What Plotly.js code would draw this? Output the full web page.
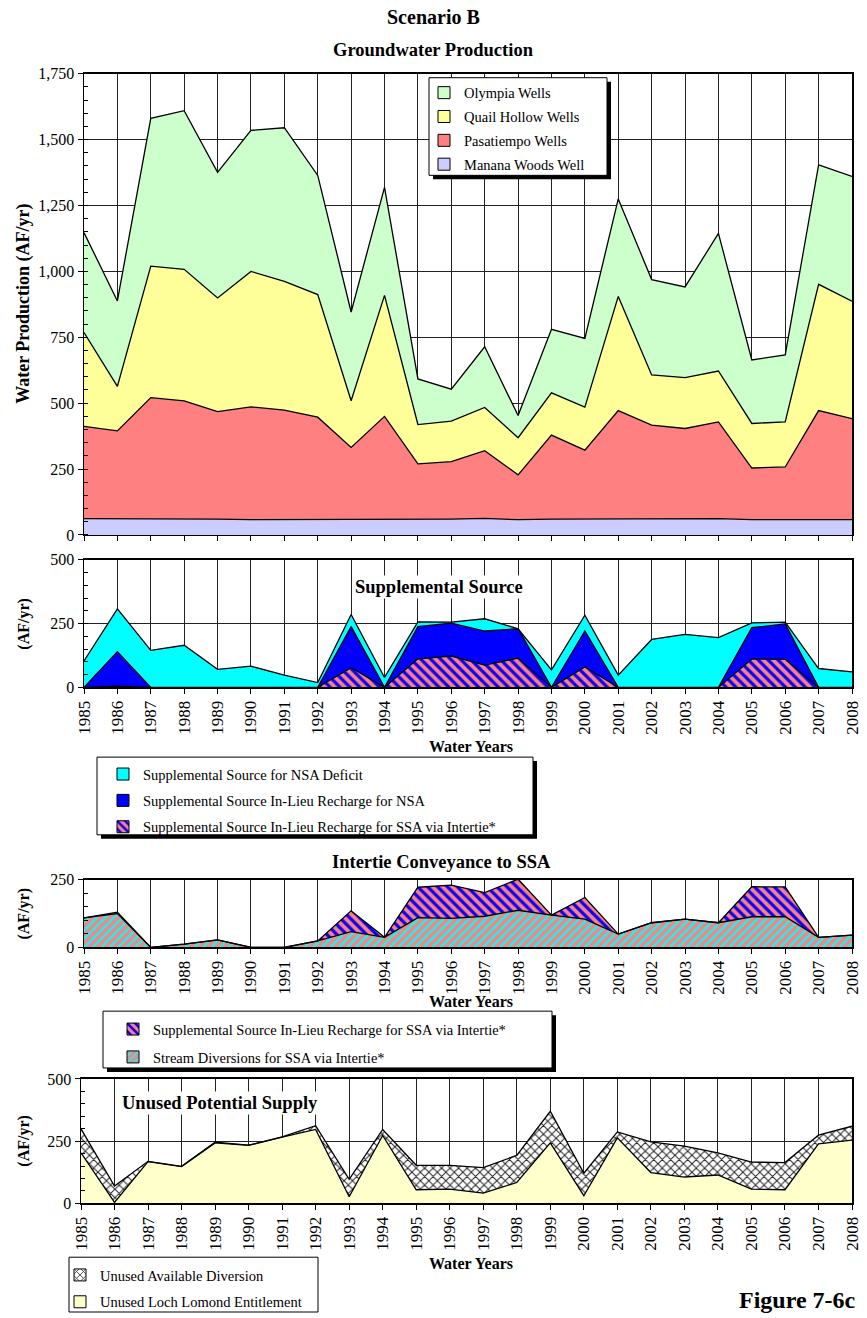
<!DOCTYPE html>
<html><head><meta charset="utf-8">
<script src="https://cdn.plot.ly/plotly-3.0.1.min.js"></script>
<style>html,body{margin:0;padding:0;background:#fff}</style>
</head><body><div id="chart" style="width:867px;height:1318px"></div>
<script>
// ---------- DATA (AF/yr) ----------
const years = [1985,1986,1987,1988,1989,1990,1991,1992,1993,1994,1995,1996,1997,1998,1999,2000,2001,2002,2003,2004,2005,2006,2007,2008];
// Groundwater production
const mananaWoods = [62,62,62,62,60,58,58,58,58,58,60,60,63,58,60,60,62,60,60,62,58,58,60,58];
const pasatiempo  = [350,333,459,447,408,428,416,389,274,392,210,218,257,170,319,262,410,357,344,367,196,200,412,383];
const quailHollow = [356,169,499,499,431,514,488,465,177,459,149,154,164,141,160,163,433,190,193,193,169,171,479,446];
const olympia     = [379,324,561,602,477,535,583,452,337,410,173,121,230,84,241,261,370,362,344,522,241,254,453,473];
// Supplemental source
const ssaInLieu   = [0,5,0,0,0,0,0,0,77,0,112,123,87,115,0,80,0,0,0,0,111,110,0,0];
const nsaInLieu   = [0,135,0,0,0,0,0,0,161,0,126,129,134,115,0,141,0,0,0,0,123,139,0,0];
const nsaDeficit  = [104,168,145,165,71,83,48,19,48,39,19,4,48,0,69,62,48,188,208,195,19,7,74,61];
// Intertie conveyance
const streamDiversions = [109,125,0,12,28,0,0,24,58,37,110,107,115,137,119,104,49,91,104,91,113,113,37,45];
// Unused potential supply
const lochLomond      = [203,4,168,148,243,233,266,297,27,273,55,57,41,84,243,31,263,124,106,114,57,55,239,254];
const unusedDiversion = [96,66,1,1,3,1,1,15,70,24,98,96,103,109,127,90,24,123,124,89,109,109,35,56];

const gwTicks = [0,250,500,750,1000,1250,1500,1750];
const supTicks = [0,250,500];
const intTicks = [0,250];
const unTicks = [0,250,500];

// ---------- STYLE ----------
const W = 867, H = 1318;
const fx = p => p / W, fy = p => 1 - p / H;
const SERIF = 'Liberation Serif, Times New Roman, serif';
const C = {
  olympia:'#ccffcc', quail:'#ffff99', pasa:'#ff8080', manana:'#ccccff',
  cyan:'#00ffff', blue:'#0000ff', pink:'#ff8080', loch:'#ffffcc'
};
const ssaPattern = {shape:'\\', bgcolor:C.pink, fgcolor:C.blue, size:7, solidity:0.45, fillmode:'replace'};
const streamPattern = {shape:'/', bgcolor:C.pink, fgcolor:C.cyan, size:6, solidity:0.38, fillmode:'replace'};
const crossPattern = {shape:'x', bgcolor:'#ffffff', fgcolor:'#222222', size:6, solidity:0.3, fillmode:'replace'};

function area(y, name, xa, ya, group, fillcolor, pattern) {
  const t = {type:'scatter', mode:'lines', x:years, y:y, name:name, xaxis:xa, yaxis:ya,
    stackgroup:group, fillcolor:fillcolor, line:{color:'#000', width:1.3}, showlegend:false, hoverinfo:'skip'};
  if (pattern) t.fillpattern = pattern;
  return t;
}
// legend keys: bars on a hidden, out-of-range axis pair so only their legend squares show
function legendSwatch(y, name, legend, color, pattern) {
  const m = {color:color, line:{color:'#000', width:1}};
  if (pattern) m.pattern = pattern;
  return {type:'bar', x:years, y:y, name:name, legend:legend, legendgroup:name + legend, marker:m,
    xaxis:'x5', yaxis:'y5', showlegend:true, hoverinfo:'skip'};
}

const traces = [
  area(mananaWoods, 'Manana Woods Well', 'x', 'y', 'gw', C.manana),
  area(pasatiempo, 'Pasatiempo Wells', 'x', 'y', 'gw', C.pasa),
  area(quailHollow, 'Quail Hollow Wells', 'x', 'y', 'gw', C.quail),
  area(olympia, 'Olympia Wells', 'x', 'y', 'gw', C.olympia),

  area(ssaInLieu, 'Supplemental Source In-Lieu Recharge for SSA via Intertie*', 'x2', 'y2', 'sup', C.pink, ssaPattern),
  area(nsaInLieu, 'Supplemental Source In-Lieu Recharge for NSA', 'x2', 'y2', 'sup', C.blue),
  area(nsaDeficit, 'Supplemental Source for NSA Deficit', 'x2', 'y2', 'sup', C.cyan),

  area(streamDiversions, 'Stream Diversions for SSA via Intertie*', 'x3', 'y3', 'int', C.pink, streamPattern),
  area(ssaInLieu, 'Supplemental Source In-Lieu Recharge for SSA via Intertie*', 'x3', 'y3', 'int', C.pink, ssaPattern),

  area(lochLomond, 'Unused Loch Lomond Entitlement', 'x4', 'y4', 'un', C.loch),
  area(unusedDiversion, 'Unused Available Diversion', 'x4', 'y4', 'un', '#ffffff', crossPattern),

  legendSwatch(olympia, 'Olympia Wells', 'legend', C.olympia),
  legendSwatch(quailHollow, 'Quail Hollow Wells', 'legend', C.quail),
  legendSwatch(pasatiempo, 'Pasatiempo Wells', 'legend', C.pasa),
  legendSwatch(mananaWoods, 'Manana Woods Well', 'legend', C.manana),

  legendSwatch(nsaDeficit, 'Supplemental Source for NSA Deficit', 'legend2', C.cyan),
  legendSwatch(nsaInLieu, 'Supplemental Source In-Lieu Recharge for NSA', 'legend2', C.blue),
  legendSwatch(ssaInLieu, 'Supplemental Source In-Lieu Recharge for SSA via Intertie*', 'legend2', C.pink, ssaPattern),

  legendSwatch(ssaInLieu, 'Supplemental Source In-Lieu Recharge for SSA via Intertie*', 'legend3', C.pink, ssaPattern),
  legendSwatch(streamDiversions, 'Stream Diversions for SSA via Intertie*', 'legend3', C.pink, streamPattern),

  legendSwatch(unusedDiversion, 'Unused Available Diversion', 'legend4', '#ffffff', crossPattern),
  legendSwatch(lochLomond, 'Unused Loch Lomond Entitlement', 'legend4', C.loch)
];

function xax(x0, x1, anchor, labels) {
  return {domain:[fx(x0), fx(x1)], anchor:anchor, range:[1985,2008], tickmode:'array', tickvals:years,
    ticktext:years.map(String), showticklabels:labels, tickangle:-90,
    tickfont:{family:SERIF, size:17, color:'#000'}, ticks:'outside', ticklen:5, tickcolor:'#000',
    showgrid:true, gridcolor:'#222', gridwidth:1, showline:true, linecolor:'#000', linewidth:1.5,
    mirror:true, zeroline:false, fixedrange:true};
}
function yax(y0, y1, anchor, tv) {
  return {domain:[fy(y1), fy(y0)], anchor:anchor, range:[0, tv[tv.length-1]], tickmode:'array', tickvals:tv,
    ticktext:tv.map(v => v.toLocaleString('en-US')), tickfont:{family:SERIF, size:16, color:'#000'},
    ticks:'outside', ticklen:5, tickcolor:'#000',
    minor:{tickmode:'linear', tick0:0, dtick:50, ticks:'inside', ticklen:4, tickcolor:'#000', showgrid:false},
    showgrid:true, gridcolor:'#222', gridwidth:1, showline:true, linecolor:'#000', linewidth:1.5,
    mirror:true, zeroline:false, fixedrange:true};
}
function leg(xText, yTop, gap) {
  return {x:fx(xText - 40), y:fy(yTop), xanchor:'left', yanchor:'top', bgcolor:'rgba(0,0,0,0)',
    borderwidth:0, font:{family:SERIF, size:14.5, color:'#000'}, traceorder:'grouped',
    tracegroupgap:gap, itemwidth:30};
}
function box(x0, y0, x1, y1, shadow) {
  const s = [];
  if (shadow) s.push({type:'rect', xref:'paper', yref:'paper', x0:fx(x0+4), x1:fx(x1+4), y0:fy(y1+4), y1:fy(y0+4),
    fillcolor:'#000', line:{width:0}, layer:'above'});
  s.push({type:'rect', xref:'paper', yref:'paper', x0:fx(x0), x1:fx(x1), y0:fy(y1), y1:fy(y0),
    fillcolor:'#fff', line:{color:'#000', width:1}, layer:'above'});
  return s;
}
function note(text, x, y, size, opts) {
  return Object.assign({text:text, xref:'paper', yref:'paper', x:fx(x), y:fy(y), showarrow:false,
    xanchor:'center', yanchor:'middle', font:{family:SERIF, size:size, color:'#000', weight:'bold'}}, opts || {});
}

const layout = {
  width:W, height:H, margin:{l:0, r:0, t:0, b:0}, paper_bgcolor:'#fff', plot_bgcolor:'#fff',
  showlegend:true, barmode:'overlay',
  xaxis: xax(84, 852, 'y', false),  yaxis: yax(74, 537, 'x', gwTicks),
  xaxis2: xax(84, 852, 'y2', true), yaxis2: yax(562, 690, 'x2', supTicks),
  xaxis3: xax(84, 852, 'y3', true), yaxis3: yax(883, 951, 'x3', intTicks),
  xaxis4: xax(81, 852, 'y4', true), yaxis4: yax(1083, 1208, 'x4', unTicks),
  xaxis5: {domain:[0, 0.001], anchor:'y5', range:[0, 1], visible:false, fixedrange:true},
  yaxis5: {domain:[0, 0.001], anchor:'x5', range:[-2, -1], visible:false, fixedrange:true},
  legend: leg(464, 77, 2),
  legend2: leg(143, 761, 4.5),
  legend3: leg(153, 1017, 6),
  legend4: leg(100, 1264, 5),
  shapes: [].concat(box(429, 78, 607, 176, true), box(97, 760, 533, 838, true),
                    box(103, 1015, 552, 1072, true), box(69, 1262, 318, 1317, false)),
  annotations: [
    note('Scenario B', 433, 17, 20),
    note('Groundwater Production', 433, 50, 18.5),
    note('Water Production (AF/yr)', 24, 305, 18, {textangle:-90}),
    note('(AF/yr)', 24, 626, 16, {textangle:-90}),
    note('Supplemental Source', 0, 0, 18.5, {xref:'x2 domain', yref:'y2 domain', x:0.462, y:0.79, bgcolor:'#fff'}),
    note('Water Years', 471, 749, 16),
    note('Intertie Conveyance to SSA', 441, 865, 18.5),
    note('(AF/yr)', 24, 917, 16, {textangle:-90}),
    note('Water Years', 471, 1005, 16),
    note('Unused Potential Supply', 0, 0, 18.5, {xref:'x4 domain', yref:'y4 domain', x:0.18, y:0.81, bgcolor:'#fff'}),
    note('(AF/yr)', 24, 1145, 16, {textangle:-90}),
    note('Water Years', 471, 1268, 16),
    note('Figure 7-6c', 858, 1305, 24, {xanchor:'right'})
  ]
};

Plotly.newPlot('chart', traces, layout, {displayModeBar:false, staticPlot:true});
</script>
</body></html>
